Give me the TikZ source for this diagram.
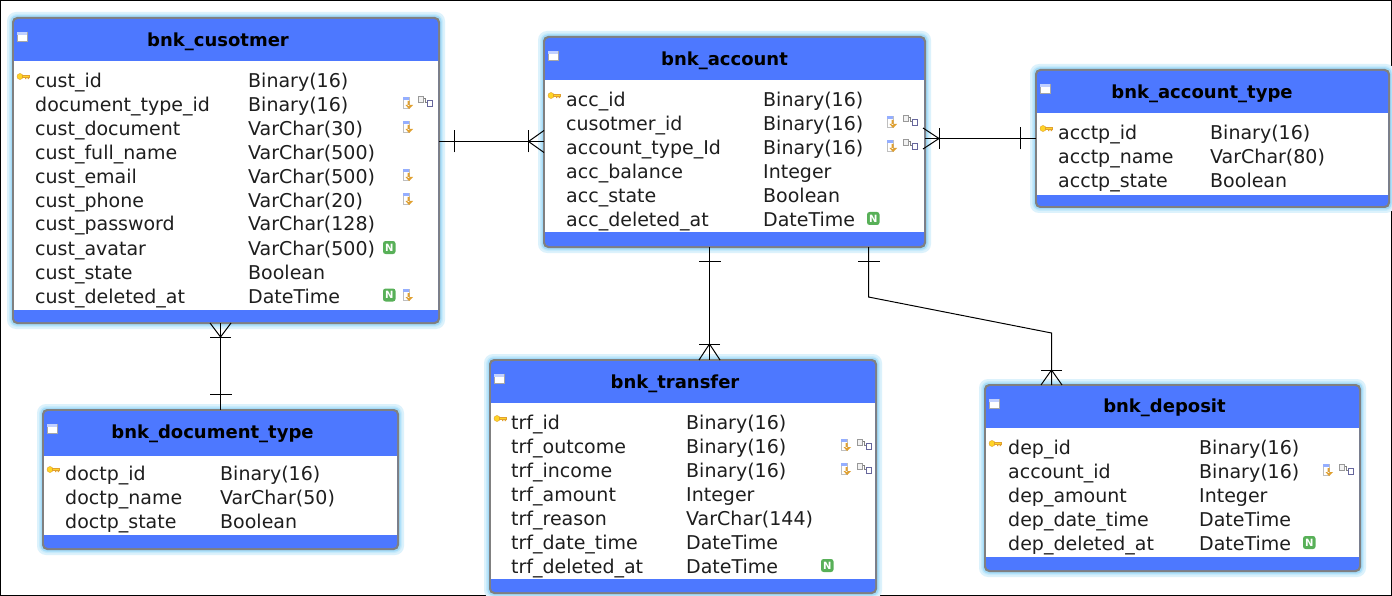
\documentclass[tikz,border=0pt]{standalone}
\usepackage{fontspec}
\setmainfont{DejaVu Sans}
\usetikzlibrary{calc}
\definecolor{hdr}{HTML}{4D78FF}
\definecolor{haloA}{HTML}{DCF2FC}
\definecolor{haloB}{HTML}{C6EAFB}
\definecolor{haloC}{HTML}{A4DBF8}
\definecolor{edgegray}{HTML}{808080}
\definecolor{txt}{HTML}{1E1E1E}
\definecolor{keyyel}{HTML}{FFD426}
\definecolor{keytan}{HTML}{E0A030}
\definecolor{ngreen}{HTML}{58B058}
\tikzset{
  x=1pt,y=-1pt,
  cell/.style={anchor=west,inner sep=0pt,text=txt,font=\fontsize{19}{21}\selectfont,text height=13pt,text depth=4pt,yshift=-2.5pt},
  titletext/.style={inner sep=0pt,text=black,font=\fontsize{18}{20}\selectfont\bfseries},
  relline/.style={draw=black,line width=1pt},
  tablebox/.style={inner sep=0pt,outer sep=0pt,rectangle},
  keyicon/.pic={
    \fill[keyyel,draw=keytan,line width=.4pt] (3,-3.5) circle (3) ;
    \fill[keyyel,draw=keytan,line width=.3pt] (5.5,-4.5) rectangle (12,-2.5);
    \fill[keytan] (8,-2.5) rectangle (9.3,-.8) (10.5,-2.5) rectangle (12,-.8);
  },
  fkicon/.pic={
    \fill[white,draw=black!25,line width=.5pt] (0,0) rectangle (6,11);
    \fill[hdr!60!white] (0,0) rectangle (6,3);
    \fill[keytan] (4.5,4) rectangle (6.5,9) (2.5,8) -- (10,8) -- (6,12) -- cycle;
  },
  relicon/.pic={
    \draw[black!50,line width=1pt] (3,2) -- (7,2) -- (7,6) -- (11,6);
    \fill[white!95!black,draw=black!40,line width=1pt] (0,0) rectangle (5.5,6);
    \fill[white,draw=blue!35!black!60,line width=1pt] (9,4) rectangle (14.5,10);
  },
  nicon/.pic={
    \fill[ngreen,rounded corners=2.5pt] (0,0) rectangle (12.5,13);
    \node[inner sep=0pt,text=white,font=\fontsize{10}{10}\selectfont\bfseries] (ntag) at (6.2,6.5) {N};
  },
  tblicon/.pic={
    \fill[white,draw=black!35,line width=.5pt] (0,0) rectangle (10,9);
    \fill[hdr!35!white] (0,0) rectangle (10,3);
  },
}
% #1 id, #2 x0, #3 y0, #4 x1, #5 y1, #6 header bottom, #7 footer top, #8 title, #9 title position
\newcommand\tbl[9]{%
  \fill[haloA,rounded corners=9pt] (#2-6,#3-6) rectangle (#4+6,#5+6);
  \fill[haloB,rounded corners=8pt] (#2-4,#3-4) rectangle (#4+4,#5+4);
  \fill[haloC,rounded corners=6pt] (#2-2.5,#3-2.5) rectangle (#4+2.5,#5+2.5);
  \fill[edgegray,rounded corners=5pt] (#2-1,#3-1) rectangle (#4+1,#5+1);
  \fill[hdr,rounded corners=4pt] (#2+1,#3+1) rectangle (#4-1,#5-1);
  \fill[white] (#2+1,#6) rectangle (#4-1,#7);
  \node[tablebox,minimum width=#4pt-#2pt,minimum height=#5pt-#3pt] (#1) at ({(#2+#4)/2},{(#3+#5)/2}) {};
  \pic at (#2+4,#3+14) {tblicon};
  \node[titletext] (#1-title) at (#9) {#8};
}
% #1 id, #2 row no, #3 y, #4 x name, #5 x type, #6 name, #7 type
\newcommand\rowtxt[7]{%
  \node[cell] (#1-n#2) at (#4,#3) {#6};
  \node[cell] (#1-t#2) at (#5,#3) {#7};
}
\newcommand\crowfoot[3]{%
  \draw[relline] ($(#1)+#2+#3$) -- (#1) -- ($(#1)+#2-#3$);
  \draw[relline] ($(#1)+#3$) -- ($(#1)-#3$);
}
\newcommand\onebar[2]{\draw[relline] ($(#1)+#2$) -- ($(#1)-#2$);}
\begin{document}
\begin{tikzpicture}
\useasboundingbox (0,0) rectangle (1392,596);
\fill[white] (0,0) rectangle (1392,596);
\draw[black,line width=1.5pt] (.7,.7) rectangle (1391.3,595.3);

\tbl{cust}{13}{18}{439}{323}{61}{310}{bnk\_cusotmer}{218,41.5}
\foreach \i/\y/\a/\b in {0/80.5/cust\_id/Binary(16),1/104.5/document\_type\_id/Binary(16),2/128.5/cust\_document/VarChar(30),3/152.5/cust\_full\_name/VarChar(500),4/176.5/cust\_email/VarChar(500),5/200.5/cust\_phone/VarChar(20),6/224/cust\_password/VarChar(128),7/248/cust\_avatar/VarChar(500),8/272/cust\_state/Boolean,9/296/cust\_deleted\_at/DateTime}
  {\rowtxt{cust}{\i}{\y}{35}{248}{\a}{\b}}
\pic at (17,80) {keyicon};
\foreach \y in {104,128,176,200,296} {\pic at (403,\y-7) {fkicon};}
\pic at (418,97) {relicon};
\pic at (383,241) {nicon};
\pic at (383,288.5) {nicon};

\tbl{acc}{544}{37}{925}{247}{80}{232}{bnk\_account}{724.5,60.5}
\foreach \i/\y/\a/\b in {0/100/acc\_id/Binary(16),1/124/cusotmer\_id/Binary(16),2/148/account\_type\_Id/Binary(16),3/172/acc\_balance/Integer,4/196/acc\_state/Boolean,5/220/acc\_deleted\_at/DateTime}
  {\rowtxt{acc}{\i}{\y}{566}{763}{\a}{\b}}
\pic at (548,99) {keyicon};
\foreach \y in {123,147} {\pic at (887,\y-7) {fkicon}; \pic at (903,\y-7) {relicon};}
\pic at (867,212) {nicon};

\tbl{atype}{1036}{70}{1389}{207}{113}{195}{bnk\_account\_type}{1202,93.5}
\foreach \i/\y/\a/\b in {0/132.5/acctp\_id/Binary(16),1/156.5/acctp\_name/VarChar(80),2/180.5/acctp\_state/Boolean}
  {\rowtxt{atype}{\i}{\y}{1058}{1210}{\a}{\b}}
\pic at (1040,132) {keyicon};

\tbl{dtype}{43}{410}{398}{549}{456}{535}{bnk\_document\_type}{212.5,433.5}
\foreach \i/\y/\a/\b in {0/473/doctp\_id/Binary(16),1/497/doctp\_name/VarChar(50),2/521/doctp\_state/Boolean}
  {\rowtxt{dtype}{\i}{\y}{65}{220}{\a}{\b}}
\pic at (47,473) {keyicon};

\tbl{trf}{490}{360}{876}{593}{403}{579}{bnk\_transfer}{675,383.5}
\foreach \i/\y/\a/\b in {0/422/trf\_id/Binary(16),1/446/trf\_outcome/Binary(16),2/470/trf\_income/Binary(16),3/494/trf\_amount/Integer,4/518/trf\_reason/VarChar(144),5/542/trf\_date\_time/DateTime,6/566/trf\_deleted\_at/DateTime}
  {\rowtxt{trf}{\i}{\y}{511}{686}{\a}{\b}}
\pic at (494,422) {keyicon};
\foreach \y in {446,470} {\pic at (841,\y-7) {fkicon}; \pic at (857,\y-7) {relicon};}
\pic at (821,559) {nicon};

\tbl{dep}{985}{385}{1360}{571}{428}{557}{bnk\_deposit}{1164.5,407.5}
\foreach \i/\y/\a/\b in {0/447/dep\_id/Binary(16),1/471/account\_id/Binary(16),2/495/dep\_amount/Integer,3/519/dep\_date\_time/DateTime,4/543/dep\_deleted\_at/DateTime}
  {\rowtxt{dep}{\i}{\y}{1008}{1199}{\a}{\b}}
\pic at (989,447) {keyicon};
\pic at (1323,464) {fkicon};
\pic at (1339,464) {relicon};
\pic at (1303,536) {nicon};

% connectors
\coordinate (a1) at ([yshift=29pt]cust.east);
\coordinate (b1) at ([xshift=-15.5pt]acc.west |- a1);
\draw[relline] (a1) -- (acc.west |- a1);
\crowfoot{b1}{(15.5,0)}{(0,11)}
\onebar{$(a1)+(15.5,0)$}{(0,11)}

\coordinate (a2) at (acc.east |- 0,138.5);
\coordinate (b2) at ($(a2)+(14,0)$);
\draw[relline] (a2) -- (atype.west |- a2);
\crowfoot{b2}{(-16,0)}{(0,10.5)}
\onebar{$(atype.west |- a2)+(-15.5,0)$}{(0,11)}

\coordinate (a3) at (709.5,0);
\draw[relline] (acc.south -| a3) -- (trf.north -| a3);
\onebar{$(acc.south -| a3)+(0,14)$}{(11,0)}
\crowfoot{$(trf.north -| a3)+(0,-16)$}{(0,16)}{(10.5,0)}

\coordinate (a4) at (868.5,0);
\coordinate (a5) at (1051.5,0);
\draw[relline] (acc.south -| a4) -- ($(acc.south -| a4)+(0,50)$) -- ($(dep.north -| a5)+(0,-52)$) -- (dep.north -| a5);
\onebar{$(acc.south -| a4)+(0,14)$}{(11,0)}
\crowfoot{$(dep.north -| a5)+(0,-15)$}{(0,15)}{(10.5,0)}

\coordinate (a6) at (220.5,0);
\draw[relline] (cust.south -| a6) -- (dtype.north -| a6);
\crowfoot{$(cust.south -| a6)+(0,14)$}{(0,-14)}{(10.5,0)}
\onebar{$(dtype.north -| a6)+(0,-16)$}{(11,0)}
\end{tikzpicture}
\end{document}
